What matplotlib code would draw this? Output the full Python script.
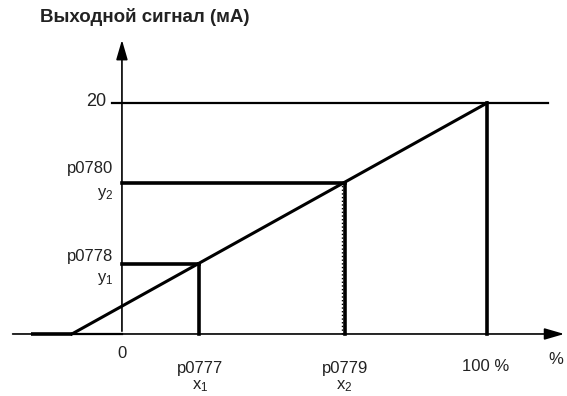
import matplotlib.pyplot as plt

plt.rcParams['font.family'] = ['Liberation Sans', 'DejaVu Sans']
plt.rcParams['mathtext.fontset'] = 'custom'
plt.rcParams['mathtext.rm'] = 'Liberation Sans'
plt.rcParams['mathtext.it'] = 'Liberation Sans'

# characteristic of the analog output (x in %, y in mA)
x_start = -13.7      # point where the ramp leaves zero
x1, y1 = 21, 6.1     # p0777 / p0778
x2, y2 = 61, 13.1    # p0779 / p0780
x_max, y_max = 100, 20
x_left, x_right = -25, 116.7

ramp_x = [x_start, x_max]
ramp_y = [0, y_max]

fig = plt.figure(figsize=(5.67, 3.96), dpi=100)
ax = fig.add_axes([0, 0, 1, 1])
ax.set_xlim(-33.4, 121.9)
ax.set_ylim(-5.37, 28.92)
ax.axis('off')

# axes with arrows
ax.annotate('', xy=(121.9, 0), xytext=(-30.7, 0),
            arrowprops=dict(arrowstyle='-|>,head_length=1.2,head_width=0.35', color='black', lw=1.2))
ax.annotate('', xy=(0, 25.7), xytext=(0, 0),
            arrowprops=dict(arrowstyle='-|>,head_length=1.2,head_width=0.35', color='black', lw=1.2))

thick = 2.6
# flat part along axis and ramp
ax.plot([x_left, x_start], [0, 0], color='black', lw=thick, solid_capstyle='butt')
ax.plot([x_start, 0], [0, 0], color='black', lw=1.6)
ax.plot(ramp_x, ramp_y, color='black', lw=2.2)

# 20 mA level
ax.plot([-2.7, x_right], [y_max, y_max], color='black', lw=1.6)
ax.plot([x_max, x_max], [0, y_max], color='black', lw=thick)

# point 1
ax.plot([0, x1], [y1, y1], color='black', lw=thick)
ax.plot([x1, x1], [0, y1], color='black', lw=thick)
# point 2
ax.plot([0, x2], [y2, y2], color='black', lw=thick)
ax.plot([x2, x2], [0, y2], color='black', lw=thick)
ax.plot([x2 - 0.8, x2 - 0.8], [0, y2], color='black', lw=1, ls=':')

fs = 12
tc = '#222222'
ax.text(-22.5, 27.45, 'Выходной сигнал (мА)', fontsize=13.5, fontweight='bold', va='center', ha='left', color=tc)
ax.text(-4.4, y_max + 0.15, '20', fontsize=fs + 1, va='center', ha='right', color=tc)
ax.text(-2.4, 14.3, 'p0780', fontsize=fs, va='center', ha='right', color=tc)
ax.text(-2.4, 12.1, r'$\mathregular{y_2}$', fontsize=fs, va='center', ha='right', color=tc)
ax.text(-2.4, 6.75, 'p0778', fontsize=fs, va='center', ha='right', color=tc)
ax.text(-2.4, 4.8, r'$\mathregular{y_1}$', fontsize=fs, va='center', ha='right', color=tc)
ax.text(0, -1.65, '0', fontsize=fs, va='center', ha='center', color=tc)
ax.text(x1 + 0.5, -2.95, 'p0777', fontsize=fs, va='center', ha='center', color=tc)
ax.text(x1 + 0.5, -4.5, r'$\mathregular{x_1}$', fontsize=fs, va='center', ha='center', color=tc)
ax.text(x2, -2.95, 'p0779', fontsize=fs, va='center', ha='center', color=tc)
ax.text(x2, -4.5, r'$\mathregular{x_2}$', fontsize=fs, va='center', ha='center', color=tc)
ax.text(x_max - 0.5, -2.8, '100 %', fontsize=fs, va='center', ha='center', color=tc)
ax.text(118.8, -2.25, '%', fontsize=fs, va='center', ha='center', color=tc)

fig.savefig('out.png', dpi=100)
